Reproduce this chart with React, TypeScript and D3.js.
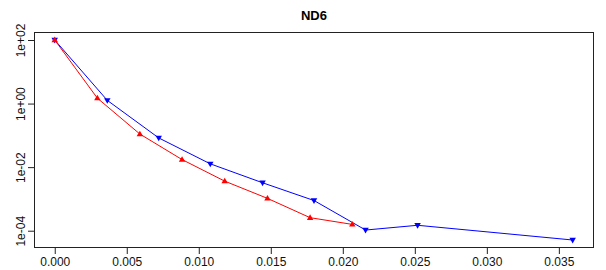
import { useRef, useEffect } from 'react';
import * as d3 from 'd3';

const width = 606;
const height = 270;

const margin = { top: 32, left: 34, bottom: 22, right: 12 };

const title = 'ND6';

const redX = [0, 0.00296, 0.00591, 0.00884, 0.0118, 0.01477, 0.01773, 0.02066];
const redY = [100, 1.48, 0.11, 0.0173, 0.00363, 0.00104, 0.000257, 0.000158];

const blueX = [0, 0.00365, 0.00722, 0.0108, 0.01443, 0.018, 0.02158, 0.02519, 0.03596];
const blueY = [100, 1.26, 0.083, 0.0127, 0.00322, 0.00089, 0.000105, 0.000148, 0.000051];

const xTicks = [0, 0.005, 0.01, 0.015, 0.02, 0.025, 0.03, 0.035];
const yTicks = [1e2, 1, 1e-2, 1e-4];
const yTickLabels = ['1e+02', '1e+00', '1e-02', '1e-04'];

const font = 'Liberation Sans, Arial, sans-serif';

const Chart = () => {
  const ref = useRef(null);

  useEffect(() => {
    const svg = d3.select(ref.current);
    svg.selectAll('*').remove();

    const x0 = 0;
    const x1 = 0.036;
    const padX = (x1 - x0) * 0.04;
    const xScale = d3
      .scaleLinear()
      .domain([x0 - padX, x1 + padX])
      .range([margin.left, width - margin.right]);

    // log y with R-style 4% padding on the log range
    const ly0 = Math.log10(0.000051);
    const ly1 = Math.log10(100);
    const padY = (ly1 - ly0) * 0.04;
    const yScale = d3
      .scaleLog()
      .domain([Math.pow(10, ly0 - padY), Math.pow(10, ly1 + padY)])
      .range([height - margin.bottom, margin.top]);

    // title
    svg
      .append('text')
      .text(title)
      .attr('x', (margin.left + width - margin.right) / 2)
      .attr('y', 20)
      .attr('text-anchor', 'middle')
      .attr('font-family', font)
      .attr('font-weight', 'bold')
      .attr('font-size', 13);

    const series = [
      { xs: blueX, ys: blueY, color: '#0000ff', symbol: 'down' },
      { xs: redX, ys: redY, color: '#ff0000', symbol: 'up' },
    ];

    const line = d3
      .line<number[]>()
      .x((d) => xScale(d[0]))
      .y((d) => yScale(d[1]));

    series.forEach((s) => {
      const pts = s.xs.map((v, i) => [v, s.ys[i]]);
      svg
        .append('path')
        .attr('d', line(pts))
        .attr('fill', 'none')
        .attr('stroke', s.color)
        .attr('stroke-width', 1);

      const r = 3.4;
      svg
        .append('g')
        .selectAll('path')
        .data(pts)
        .enter()
        .append('path')
        .attr('transform', (d) => `translate(${xScale(d[0])}, ${yScale(d[1])})`)
        .attr('d', () =>
          s.symbol === 'up'
            ? `M0,${-r}L${r * 0.95},${r * 0.65}L${-r * 0.95},${r * 0.65}Z`
            : `M0,${r}L${r * 0.95},${-r * 0.65}L${-r * 0.95},${-r * 0.65}Z`
        )
        .attr('fill', s.color);
    });

    // box
    svg
      .append('rect')
      .attr('x', margin.left + 0.5)
      .attr('y', margin.top + 0.5)
      .attr('width', width - margin.left - margin.right - 1)
      .attr('height', height - margin.top - margin.bottom - 1)
      .attr('fill', 'none')
      .attr('stroke', '#222')
      .attr('stroke-width', 1);

    // x axis
    const xAxis = svg
      .append('g')
      .attr('transform', `translate(0, ${height - margin.bottom})`)
      .call(
        d3
          .axisBottom(xScale)
          .tickValues(xTicks)
          .tickFormat(d3.format('.3f'))
          .tickSize(6)
          .tickPadding(3)
      );
    xAxis.select('.domain').remove();
    xAxis.selectAll('line').attr('stroke', '#222');
    xAxis
      .selectAll('text')
      .attr('font-family', font)
      .attr('font-size', 12)
      .attr('fill', '#111');

    // y axis
    const yAxis = svg
      .append('g')
      .attr('transform', `translate(${margin.left}, 0)`)
      .call(
        d3
          .axisLeft(yScale)
          .tickValues(yTicks)
          .tickFormat((d, i) => yTickLabels[i])
          .tickSize(6)
      );
    yAxis.select('.domain').remove();
    yAxis.selectAll('line').attr('stroke', '#222');
    yAxis
      .selectAll('text')
      .attr('font-family', font)
      .attr('font-size', 12)
      .attr('fill', '#111')
      .attr('text-anchor', 'middle')
      .attr('dy', 0)
      .attr('x', 0)
      .attr('y', 0)
      .attr('transform', 'translate(-9, 0) rotate(-90)');
  }, []);

  return <svg ref={ref} width={width} height={height} style={{ display: 'block', background: 'white' }}></svg>;
};

export default function App() {
  useEffect(() => {
    document.body.style.margin = '0';
  }, []);
  return <Chart />;
}
